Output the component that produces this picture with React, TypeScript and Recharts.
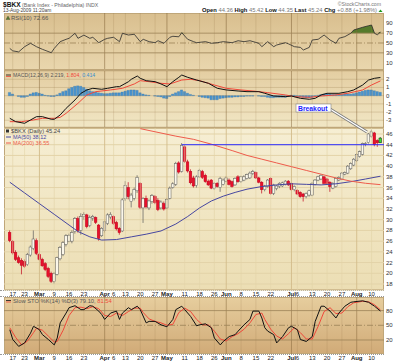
import React from 'react';
import { ComposedChart, Line, Bar, Area, XAxis, YAxis, CartesianGrid, ReferenceLine } from 'recharts';

// ---------- data ----------
const tickIdx = [1, 5, 10, 15, 20, 25, 32, 35, 39, 44, 49, 53, 59, 64, 69, 73, 78, 83, 88, 95, 97, 102, 107, 112, 117, 122];
const tickLabels = ['17', '23', 'Mar', '9', '16', '23', 'Apr', '6', '13', '20', '27', 'May', '11', '18', '26', 'Jun', '8', '15', '22', 'Jul', '6', '13', '20', '27', 'Aug', '10'];
const monthIdx = [10, 32, 53, 73, 95, 117];

const opens = [
  27.6, 25.9, 23.9, 22.9, 22.4, 22.2, 21.6, 23.4, 24.6, 26.1,
  23.5, 22.6, 21.8, 20.9, 20.0, 18.5, 19.8, 22.7, 23.5, 25.4,
  26.0, 26.0, 27.8, 30.2, 28.0, 30.6, 30.9, 28.9, 30.3, 30.4,
  29.0, 27.0, 28.0, 29.3, 30.5, 30.6, 29.5, 28.4, 27.9, 33.9,
  36.0, 33.4, 34.0, 35.4, 36.8, 32.2, 34.0, 32.2, 33.4, 34.3,
  33.6, 32.2, 33.0, 32.2, 34.0, 36.0, 36.6, 40.6, 39.0, 43.6,
  40.8, 39.0, 37.8, 36.4, 38.0, 39.0, 38.3, 37.2, 37.4, 35.9,
  36.8, 36.0, 36.6, 37.2, 37.4, 37.1, 36.5, 38.0, 37.1, 37.4,
  37.7, 37.8, 38.6, 38.8, 37.8, 37.0, 35.6, 36.2, 37.7, 34.9,
  35.8, 36.2, 36.3, 36.6, 37.2, 36.8, 35.6, 35.5, 35.1, 34.8,
  34.3, 34.6, 34.6, 36.6, 37.4, 37.6, 38.0, 37.6, 37.0, 35.9,
  36.2, 37.4, 37.6, 38.5, 38.7, 39.5, 40.2, 41.0, 41.8, 42.2,
  44.0, 44.4, 45.6, 46.2, 44.8, 44.36,
];
const highs = [
  28.0, 26.2, 24.3, 23.3, 22.8, 22.6, 23.8, 25.2, 28.0, 26.5,
  23.8, 22.9, 22.1, 21.2, 20.3, 20.2, 23.1, 25.1, 26.0, 27.3,
  27.4, 28.0, 30.5, 30.6, 31.2, 31.4, 31.1, 30.8, 30.9, 30.6,
  29.2, 28.6, 29.8, 31.2, 31.4, 30.8, 29.8, 28.6, 34.0, 37.2,
  37.0, 35.0, 36.0, 38.3, 37.0, 34.2, 34.5, 33.8, 34.8, 34.6,
  34.0, 33.6, 33.4, 34.0, 36.2, 37.0, 40.8, 40.9, 44.3, 43.9,
  41.2, 39.4, 38.2, 38.3, 39.5, 39.3, 38.6, 37.5, 37.6, 37.0,
  37.0, 38.0, 37.7, 38.1, 37.7, 37.3, 37.9, 38.3, 38.2, 38.3,
  38.6, 39.0, 39.3, 39.0, 38.0, 37.2, 36.5, 37.6, 37.9, 36.7,
  36.5, 37.0, 37.1, 37.4, 37.4, 37.0, 36.4, 35.7, 35.3, 35.0,
  35.1, 35.6, 37.0, 37.6, 38.2, 38.5, 38.2, 37.8, 37.2, 37.0,
  37.9, 38.1, 38.9, 39.0, 40.2, 40.7, 41.5, 42.4, 42.9, 44.4,
  44.5, 46.2, 46.8, 46.4, 45.0, 45.42,
];
const lows = [
  25.8, 23.5, 22.3, 21.8, 19.8, 21.0, 21.4, 23.1, 24.3, 23.4,
  22.4, 21.2, 20.4, 19.1, 18.2, 18.1, 19.6, 22.4, 23.2, 25.0,
  25.8, 25.6, 27.4, 27.6, 27.2, 30.0, 28.4, 28.6, 29.8, 29.2,
  26.1, 26.8, 27.6, 29.0, 30.1, 29.0, 28.0, 27.2, 27.7, 33.5,
  33.8, 32.3, 33.6, 35.0, 32.0, 29.4, 32.1, 31.8, 33.0, 32.9,
  31.6, 31.9, 31.7, 32.0, 33.8, 35.8, 36.3, 38.6, 38.8, 40.6,
  38.8, 36.6, 36.0, 36.0, 37.8, 37.6, 36.9, 36.3, 35.7, 35.6,
  36.0, 35.2, 36.4, 37.0, 36.4, 36.0, 36.3, 36.9, 36.9, 37.2,
  37.5, 37.6, 38.3, 37.6, 36.8, 34.9, 35.3, 36.0, 34.7, 34.6,
  35.5, 35.9, 36.1, 36.4, 36.3, 35.4, 35.3, 34.6, 34.1, 33.4,
  34.0, 34.3, 34.4, 36.4, 37.2, 37.4, 36.6, 36.6, 35.2, 35.7,
  36.0, 37.2, 37.4, 38.3, 38.5, 39.3, 40.0, 40.8, 41.6, 42.0,
  43.7, 44.2, 45.3, 43.7, 43.6, 44.35,
];
const closes = [
  26.1, 23.8, 22.6, 22.0, 21.5, 21.3, 23.5, 24.9, 26.4, 23.7,
  22.6, 21.4, 20.7, 19.4, 18.5, 19.9, 22.9, 24.8, 25.7, 27.0,
  27.1, 27.6, 30.2, 28.0, 30.6, 31.0, 28.7, 30.4, 30.6, 29.5,
  26.5, 28.4, 29.6, 30.9, 31.0, 29.3, 28.3, 27.6, 33.7, 36.4,
  34.3, 34.6, 35.6, 37.9, 32.3, 33.9, 32.4, 33.5, 34.5, 33.2,
  31.9, 33.3, 32.0, 33.8, 35.9, 36.7, 40.5, 38.9, 43.9, 40.9,
  39.1, 36.9, 36.3, 38.0, 39.2, 37.9, 37.1, 36.5, 35.9, 36.8,
  36.2, 37.7, 37.4, 37.8, 36.6, 36.2, 37.7, 37.1, 38.0, 38.0,
  38.4, 38.7, 39.0, 37.8, 37.0, 35.6, 36.3, 37.4, 34.9, 36.5,
  36.3, 36.8, 36.9, 37.2, 36.5, 35.6, 36.2, 34.8, 34.3, 34.3,
  34.9, 35.4, 36.8, 37.4, 38.0, 38.3, 36.8, 36.8, 36.2, 36.8,
  37.7, 37.9, 38.7, 38.8, 40.0, 40.5, 41.3, 42.2, 42.7, 44.2,
  44.2, 46.0, 46.4, 44.0, 44.36, 45.24,
];

const ma50Idx = [0, 5, 10, 15, 20, 23, 27, 31, 36, 41, 46, 51, 56, 60, 64, 68, 72, 76, 80, 85, 90, 95, 100, 105, 110, 115, 120, 125];
const ma50Val = [37.0, 35.0, 33.0, 31.0, 29.0, 27.8, 26.8, 26.2, 26.3, 26.8, 27.3, 27.9, 29.2, 30.6, 32.2, 33.5, 34.4, 35.1, 35.7, 36.2, 36.5, 36.7, 36.6, 36.5, 36.7, 37.1, 37.6, 38.12];
const ma200Idx = [44, 50, 56, 62, 68, 75, 80, 85, 90, 95, 100, 105, 110, 115, 120, 125];
const ma200Val = [47.0, 46.3, 45.6, 45.0, 44.1, 42.9, 42.0, 41.3, 40.6, 39.9, 39.2, 38.5, 37.8, 37.2, 36.8, 36.55];
const breakoutLevel = 44.0;
const breakoutStart = 58;

const rsiIdx = [0, 1, 3, 5, 7, 9, 11, 14, 15, 17, 19, 20, 22, 23, 25, 27, 28, 30, 32, 33, 35, 37, 38, 40, 42, 44, 45, 47, 49, 50, 52, 54, 55, 57, 58, 60, 62, 63, 66, 68, 70, 72, 75, 77, 79, 81, 84, 85, 87, 89, 90, 93, 94, 96, 98, 99, 101, 102, 104, 106, 108, 110, 111, 113, 115, 116, 119, 121, 122, 123, 124, 125];
const rsiVal = [39, 34, 32, 42.5, 49.4, 42.5, 37.2, 30.3, 39, 52.7, 57.5, 59.5, 69.7, 59.5, 66, 59.5, 61.6, 50.6, 57.5, 59.5, 61.6, 52.7, 69.7, 66.2, 67.7, 52.7, 57.5, 52.7, 50.6, 54.6, 49.4, 61.6, 63.6, 62.6, 70.9, 57.5, 52.7, 50.6, 52.7, 49.4, 50.6, 52.7, 50.6, 54.6, 52.7, 54.6, 49.4, 42.5, 52.7, 42.5, 45.9, 50.6, 48.2, 42.5, 41.1, 35.8, 41.1, 56.1, 57.5, 66.2, 56.1, 49.4, 59.5, 62.9, 69.7, 76.4, 81.9, 85.1, 86.5, 69.7, 66.5, 72.66];

const macdIdx = [0, 2, 5, 7, 9, 11, 14, 15, 17, 19, 22, 24, 26, 28, 31, 33, 36, 37, 40, 41, 43, 44, 46, 49, 51, 53, 55, 57, 58, 60, 63, 67, 70, 73, 77, 80, 84, 86, 89, 93, 95, 98, 101, 103, 105, 107, 111, 114, 116, 119, 121, 123, 125];
const macdVal = [-2.76, -3.17, -3.37, -2.96, -2.56, -2.56, -2.88, -2.88, -2.35, -1.54, -0.52, 0.29, 0.70, 0.90, 0.78, 0.90, 1.10, 1.10, 1.70, 2.00, 2.40, 2.12, 1.83, 1.71, 1.43, 1.10, 1.71, 2.24, 2.52, 2.24, 1.91, 1.51, 0.90, 0.70, 0.57, 0.49, 0.49, 0.29, -0.04, -0.12, -0.04, -0.32, -0.44, -0.32, 0.09, 0.29, 0.29, 0.49, 0.70, 1.30, 1.91, 2.12, 2.219];
const sigIdx = [0, 4, 8, 11, 15, 17, 19, 23, 26, 29, 34, 38, 42, 44, 47, 51, 54, 58, 61, 64, 69, 73, 78, 82, 87, 93, 96, 101, 105, 110, 114, 119, 122, 125];
const sigVal = [-3.17, -3.17, -2.96, -2.76, -2.76, -2.64, -2.15, -0.93, 0.09, 0.49, 0.70, 0.90, 1.43, 1.83, 1.71, 1.51, 1.43, 1.91, 2.00, 1.83, 1.30, 0.90, 0.70, 0.57, 0.37, 0.09, -0.12, -0.20, -0.04, 0.09, 0.29, 0.70, 1.30, 1.804];
const histVal = [
  0.4, 0.2, 0.0, -0.1, -0.2, -0.2, -0.1, 0.2, 0.35, 0.4,
  0.3, 0.2, 0.05, -0.05, -0.1, -0.1, 0.1, 0.3, 0.5, 0.6,
  0.85, 1.0, 1.15, 1.2, 1.15, 1.0, 0.8, 0.6, 0.5, 0.45,
  0.35, 0.3, 0.25, 0.25, 0.3, 0.35, 0.35, 0.35, 0.45, 0.55,
  0.65, 0.7, 0.7, 0.65, 0.35, 0.2, 0.1, 0.05, 0.0, -0.05,
  -0.1, -0.15, -0.3, -0.35, -0.1, 0.2, 0.35, 0.5, 0.7, 0.5,
  0.3, 0.15, 0.05, 0.0, -0.1, -0.2, -0.25, -0.3, -0.5, -0.5,
  -0.5, -0.35, -0.3, -0.25, -0.2, -0.2, -0.15, -0.15, -0.1, -0.1,
  -0.05, -0.05, -0.05, 0.0, -0.05, -0.1, -0.1, -0.2, -0.25, -0.25,
  -0.2, -0.2, -0.2, -0.2, -0.1, 0.05, 0.05, -0.1, -0.15, -0.2,
  -0.25, -0.25, -0.2, -0.1, 0.05, 0.13, 0.2, 0.25, 0.2, 0.15,
  0.15, 0.15, 0.15, 0.2, 0.2, 0.2, 0.25, 0.35, 0.45, 0.55,
  0.65, 0.7, 0.7, 0.6, 0.5, 0.414,
];

const kIdx = [0, 1, 3, 5, 7, 8, 10, 11, 13, 15, 16, 17, 19, 20, 22, 24, 25, 27, 28, 30, 31, 32, 34, 36, 37, 38, 40, 41, 43, 44, 46, 47, 49, 51, 53, 55, 56, 58, 59, 61, 63, 64, 66, 68, 69, 71, 72, 74, 76, 77, 79, 81, 82, 84, 85, 86, 87, 89, 90, 92, 94, 95, 97, 98, 100, 102, 103, 105, 106, 108, 110, 111, 113, 115, 116, 119, 121, 123, 125];
const kVal = [41, 21, 7, 14, 34, 48, 41, 31, 21, 10, 24, 55, 75, 86, 90, 82, 82, 90, 89, 79, 72, 62, 75, 79, 62, 75, 86, 82, 89, 82, 55, 58, 58, 51, 47, 62, 82, 89, 82, 68, 49, 51, 53, 45, 24, 10, 17, 27, 31, 38, 51, 62, 79, 79, 65, 45, 38, 31, 14, 27, 45, 48, 41, 21, 17, 27, 58, 89, 89, 79, 65, 75, 89, 97, 98, 100, 97, 89, 79.1];
const dIdx = [0, 2, 4, 6, 8, 9, 11, 13, 15, 16, 18, 20, 22, 24, 26, 28, 30, 32, 34, 36, 38, 40, 42, 44, 45, 47, 49, 51, 53, 55, 57, 59, 61, 63, 65, 67, 69, 71, 73, 75, 77, 79, 81, 83, 85, 86, 88, 90, 92, 94, 96, 98, 100, 102, 104, 106, 108, 110, 112, 114, 116, 119, 121, 123, 125];
const dVal = [45, 25, 10, 18, 35, 44, 40, 28, 16, 17, 40, 70, 86, 87, 84, 88, 84, 70, 68, 75, 70, 78, 85, 85, 76, 63, 58, 55, 50, 52, 76, 85, 78, 62, 51, 51, 38, 22, 18, 27, 33, 42, 55, 72, 75, 62, 42, 28, 22, 33, 45, 35, 22, 22, 48, 78, 86, 74, 75, 88, 96, 99, 98, 92, 81.54];

// ---------- layout constants ----------
const X_DOMAIN: [number, number] = [-1.95, 126.2];
const FONT = "'Liberation Sans', Arial, sans-serif";

const toMap = (ks: number[], vs: number[]) => new Map<number, number>(ks.map((k, j) => [k, vs[j]]));
const ma50Map = toMap(ma50Idx, ma50Val);
const ma200Map = toMap(ma200Idx, ma200Val);
const rsiMap = toMap(rsiIdx, rsiVal);
const macdMap = toMap(macdIdx, macdVal);
const sigMap = toMap(sigIdx, sigVal);
const kMap = toMap(kIdx, kVal);
const dMap = toMap(dIdx, dVal);
const idxs = closes.map((_, i) => i);

const priceRows = idxs.map((i) => ({
  i, o: opens[i], h: highs[i], l: lows[i], c: closes[i], hl: [lows[i], highs[i]],
  ma50: ma50Map.has(i) ? ma50Map.get(i) : null,
  ma200: ma200Map.has(i) ? ma200Map.get(i) : null,
}));
const rsiRows = idxs.map((i) => ({
  i,
  rsi: rsiMap.has(i) ? rsiMap.get(i) : null,
  band: rsiMap.has(i) ? [70, Math.max(70, rsiMap.get(i) as number)] : null,
}));
const macdRows = idxs.map((i) => ({
  i, hist: histVal[i],
  macd: macdMap.has(i) ? macdMap.get(i) : null,
  sig: sigMap.has(i) ? sigMap.get(i) : null,
}));
const stoRows = idxs.map((i) => ({
  i,
  k: kMap.has(i) ? kMap.get(i) : null,
  d: dMap.has(i) ? dMap.get(i) : null,
}));

// ---------- shapes ----------
const Candle = (p: any) => {
  const { x, y, width, height, payload } = p;
  if (x == null || y == null || !payload) return null;
  const top = Math.min(y, y + height);
  const hh = Math.abs(height);
  const { o, h: hi, l: lo, c } = payload;
  const span = hi - lo || 1;
  const py = (v: number) => top + ((hi - v) / span) * hh;
  const cx = x + width / 2;
  const isLast = payload.i === closes.length - 1;
  const down = c < o;
  const stroke = isLast ? '#1a1a1a' : down ? '#c0001a' : '#5c5c5c';
  const fill = isLast ? '#33e833' : down ? '#e8102c' : '#fbf7ea';
  const bt = py(Math.max(o, c));
  const bb = py(Math.min(o, c));
  const bw = 2.6;
  return (
    <g>
      <line x1={cx} x2={cx} y1={top} y2={top + hh} stroke={stroke} strokeWidth={0.7} />
      <rect x={cx - bw / 2} y={bt} width={bw} height={Math.max(bb - bt, 0.7)} fill={fill} stroke={stroke} strokeWidth={0.5} />
    </g>
  );
};

const YTick = (p: any) => {
  const { x, y, payload } = p;
  return (
    <text x={x} y={y + 2} fontSize={6} fill="#333" fontFamily={FONT} textAnchor="start">
      {payload.value}
    </text>
  );
};

const DateTick = (p: any) => {
  const { x, y, payload } = p;
  const j = tickIdx.indexOf(payload.value);
  if (j < 0) return null;
  const isMonth = monthIdx.includes(payload.value);
  return (
    <text x={x} y={y + 6} fontSize={6} textAnchor="middle" fill="#222" fontWeight={isMonth ? 'bold' : 'normal'} fontFamily={FONT}>
      {tickLabels[j]}
    </text>
  );
};

const vGrid = (week: string, month: string) =>
  tickIdx.map((t) => (
    <ReferenceLine key={'v' + t} x={t} stroke={monthIdx.includes(t) ? month : week} strokeWidth={monthIdx.includes(t) ? 0.9 : 0.6} />
  ));

const hiddenX = <XAxis type="number" dataKey="i" domain={X_DOMAIN} hide allowDataOverflow />;

const rightY = (domain: [number, number], ticks: number[]) => (
  <YAxis
    orientation="right"
    width={16}
    type="number"
    domain={domain}
    ticks={ticks}
    interval={0}
    allowDataOverflow
    tick={<YTick />}
    tickSize={0}
    tickMargin={2}
    axisLine={false}
    tickLine={false}
  />
);

const margin = { top: 0, right: 0, bottom: 0, left: 4 };

const panelBg = (top: number, height: number, bg: string): React.CSSProperties => ({
  position: 'absolute', left: 4, top, width: 380, height, background: bg,
  boxSizing: 'border-box', border: '1px solid #bfa679',
});

export default function App() {
  return (
    <div style={{ position: 'absolute', left: 0, top: 0, width: 400, height: 363, background: '#ffffff', overflow: 'hidden', fontFamily: FONT }}>
      {/* panel backgrounds */}
      <div style={panelBg(13, 57, 'linear-gradient(to bottom, #d9bf8f, #e9d6ad)')} />
      <div style={panelBg(70, 58, 'linear-gradient(to bottom, #e4cea2, #f1e6c4)')} />
      <div style={panelBg(128, 162, 'linear-gradient(to bottom, #f6eed3, #ecdeb4)')} />
      <div style={{ position: 'absolute', left: 0, top: 290, width: 384, height: 7, background: '#fff', borderTop: '1px dotted #999', borderBottom: '1px dotted #999', boxSizing: 'border-box' }} />
      <div style={panelBg(297, 57, 'linear-gradient(to bottom, #e6cd9d, #d1ab78)')} />
      <div style={{ position: 'absolute', left: 0, top: 354, width: 384, height: 9, background: '#fff', borderTop: '1px dotted #999', boxSizing: 'border-box' }} />

      {/* RSI */}
      <div style={{ position: 'absolute', left: 0, top: 13 }}>
        <ComposedChart width={400} height={56} data={rsiRows} margin={margin}>
          {hiddenX}
          {rightY([-2.8, 110.9], [10, 30, 50, 70, 90])}
          {vGrid('rgba(150,118,70,0.35)', 'rgba(130,100,55,0.6)')}
          <ReferenceLine y={70} stroke="#9a8157" strokeWidth={0.8} />
          <ReferenceLine y={30} stroke="#9a8157" strokeWidth={0.8} />
          <ReferenceLine y={50} stroke="#9a8157" strokeWidth={0.8} strokeDasharray="6 2 1 2" />
          <Area type="linear" dataKey="band" stroke="none" fill="#557a2b" fillOpacity={1} connectNulls isAnimationActive={false} />
          <Line type="linear" dataKey="rsi" stroke="#2a2a2a" strokeWidth={0.8} dot={false} connectNulls isAnimationActive={false} />
        </ComposedChart>
      </div>

      {/* MACD */}
      <div style={{ position: 'absolute', left: 0, top: 71 }}>
        <ComposedChart width={400} height={56} data={macdRows} margin={margin}>
          {hiddenX}
          {rightY([-3.82, 3.01], [2, 1, 0, -1, -2, -3])}
          <CartesianGrid vertical={false} stroke="rgba(150,118,70,0.25)" />
          {vGrid('rgba(150,118,70,0.3)', 'rgba(130,100,55,0.55)')}
          <Bar dataKey="hist" barSize={2.4} fill="#4a94cf" stroke="#2f6fa6" strokeWidth={0.3} isAnimationActive={false} />
          <Line type="linear" dataKey="sig" stroke="#f0483a" strokeWidth={1} dot={false} connectNulls isAnimationActive={false} />
          <Line type="linear" dataKey="macd" stroke="#111" strokeWidth={1} dot={false} connectNulls isAnimationActive={false} />
        </ComposedChart>
      </div>

      {/* Price */}
      <div style={{ position: 'absolute', left: 0, top: 128 }}>
        <ComposedChart width={400} height={170} data={priceRows} margin={margin}>
          <XAxis
            type="number"
            dataKey="i"
            domain={X_DOMAIN}
            ticks={tickIdx}
            interval={0}
            tick={<DateTick />}
            height={8}
            tickSize={0}
            tickMargin={0}
            axisLine={false}
            tickLine={false}
            allowDataOverflow
          />
          {rightY([16.88, 47.12], [46, 44, 42, 40, 38, 36, 34, 32, 30, 28, 26, 24, 22, 20, 18])}
          <CartesianGrid vertical={false} stroke="#e3d3a8" />
          {vGrid('#e3d3a8', '#d2bb8a')}
          <Line type="linear" dataKey="ma50" stroke="#4747a0" strokeWidth={1} dot={false} connectNulls isAnimationActive={false} />
          <Line type="linear" dataKey="ma200" stroke="#ee5b4b" strokeWidth={1} dot={false} connectNulls isAnimationActive={false} />
          <ReferenceLine segment={[{ x: breakoutStart, y: breakoutLevel }, { x: X_DOMAIN[1], y: breakoutLevel }]} stroke="#2b2bff" strokeWidth={1} />
          <Bar dataKey="hl" barSize={2.6} shape={(p: any) => <Candle {...p} />} isAnimationActive={false} />
        </ComposedChart>
      </div>

      {/* Slow STO */}
      <div style={{ position: 'absolute', left: 0, top: 297 }}>
        <ComposedChart width={400} height={66} data={stoRows} margin={margin}>
          <XAxis
            type="number"
            dataKey="i"
            domain={X_DOMAIN}
            ticks={tickIdx}
            interval={0}
            tick={<DateTick />}
            height={9}
            tickSize={0}
            tickMargin={0}
            axisLine={false}
            tickLine={false}
            allowDataOverflow
          />
          {rightY([-8.6, 107.8], [80, 50, 20])}
          {vGrid('rgba(150,118,70,0.3)', 'rgba(130,100,55,0.55)')}
          <ReferenceLine y={80} stroke="#9a8157" strokeWidth={0.8} />
          <ReferenceLine y={20} stroke="#9a8157" strokeWidth={0.8} />
          <ReferenceLine y={50} stroke="#9a8157" strokeWidth={0.8} strokeDasharray="6 2 1 2" />
          <Line type="linear" dataKey="d" stroke="#f0483a" strokeWidth={1} dot={false} connectNulls isAnimationActive={false} />
          <Line type="linear" dataKey="k" stroke="#111" strokeWidth={1} dot={false} connectNulls isAnimationActive={false} />
        </ComposedChart>
      </div>

      {/* texts and annotation */}
      <svg width={400} height={363} style={{ position: 'absolute', left: 0, top: 0, pointerEvents: 'none' }} fontFamily={FONT}>
        <text x={3} y={6.6} fontSize={6.6} fontWeight="bold" fill="#111">
          $BKX
          <tspan fontSize={5.2} fontWeight="normal" fill="#666">{' (Bank Index - Philadelphia) INDX'}</tspan>
        </text>
        <text x={3} y={12.4} fontSize={4.9} fill="#444">13-Aug-2009 11:20am</text>
        <text x={381} y={6.2} fontSize={5.2} fill="#777" textAnchor="end">©StockCharts.com</text>
        <text x={377} y={12.4} fontSize={5.8} fill="#777" textAnchor="end">
          <tspan fontWeight="bold" fill="#111">Open</tspan>
          {' 44.36 '}
          <tspan fontWeight="bold" fill="#111">High</tspan>
          {' 45.42 '}
          <tspan fontWeight="bold" fill="#111">Low</tspan>
          {' 44.35 '}
          <tspan fontWeight="bold" fill="#111">Last</tspan>
          {' 45.24 '}
          <tspan fontWeight="bold" fill="#111">Chg</tspan>
          {' +0.88 (+1.98%)'}
        </text>
        <polygon points="378.5,12 382.5,12 380.5,9.5" fill="#1a9a1a" />

        {/* RSI legend */}
        <polygon points="6,19.5 10,19.5 8,16" fill="#557a2b" stroke="#333" strokeWidth={0.3} />
        <text x={11} y={19.5} fontSize={6} fill="#555">RSI(10) 72.66</text>

        {/* MACD legend */}
        <line x1={6} x2={11} y1={75} y2={75} stroke="#111" strokeWidth={0.8} />
        <line x1={6} x2={11} y1={76.5} y2={76.5} stroke="#f0483a" strokeWidth={0.8} />
        <text x={13} y={77} fontSize={5.2} fill="#555">
          {'MACD(12,26,9) 2.219, '}
          <tspan fill="#f0483a">1.804</tspan>
          {', '}
          <tspan fill="#3a8fd0">0.414</tspan>
        </text>

        {/* Price legends */}
        <rect x={6} y={129.5} width={3} height={3} fill="#333" />
        <text x={11} y={132.8} fontSize={5.8} fill="#444">$BKX (Daily) 45.24</text>
        <line x1={6} x2={11} y1={137} y2={137} stroke="#4747a0" strokeWidth={1} />
        <text x={13} y={138.8} fontSize={5.5} fill="#4747a0">MA(50) 38.12</text>
        <line x1={6} x2={11} y1={143} y2={143} stroke="#ee5b4b" strokeWidth={1} />
        <text x={13} y={144.8} fontSize={5.5} fill="#ee5b4b">MA(200) 36.55</text>

        {/* STO legend */}
        <line x1={6} x2={11} y1={300.5} y2={300.5} stroke="#111" strokeWidth={0.8} />
        <line x1={6} x2={11} y1={302} y2={302} stroke="#f0483a" strokeWidth={0.8} />
        <text x={13} y={303} fontSize={5.8} fill="#555">
          {'Slow STO %K(14) %D(3) 79.10, '}
          <tspan fill="#f0483a">81.54</tspan>
        </text>

        {/* Breakout annotation */}
        <line x1={330} y1={109} x2={367} y2={132} stroke="#7a7a7a" strokeWidth={2.8} />
        <line x1={330} y1={109} x2={367} y2={132} stroke="#ffffff" strokeWidth={1.4} />
        <rect x={296} y={104} width={35} height={8} fill="#ffffff" stroke="#888" strokeWidth={0.6} />
        <text x={298} y={110.6} fontSize={6.8} fontWeight="bold" fill="#1d1dff">Breakout</text>
      </svg>
    </div>
  );
}
